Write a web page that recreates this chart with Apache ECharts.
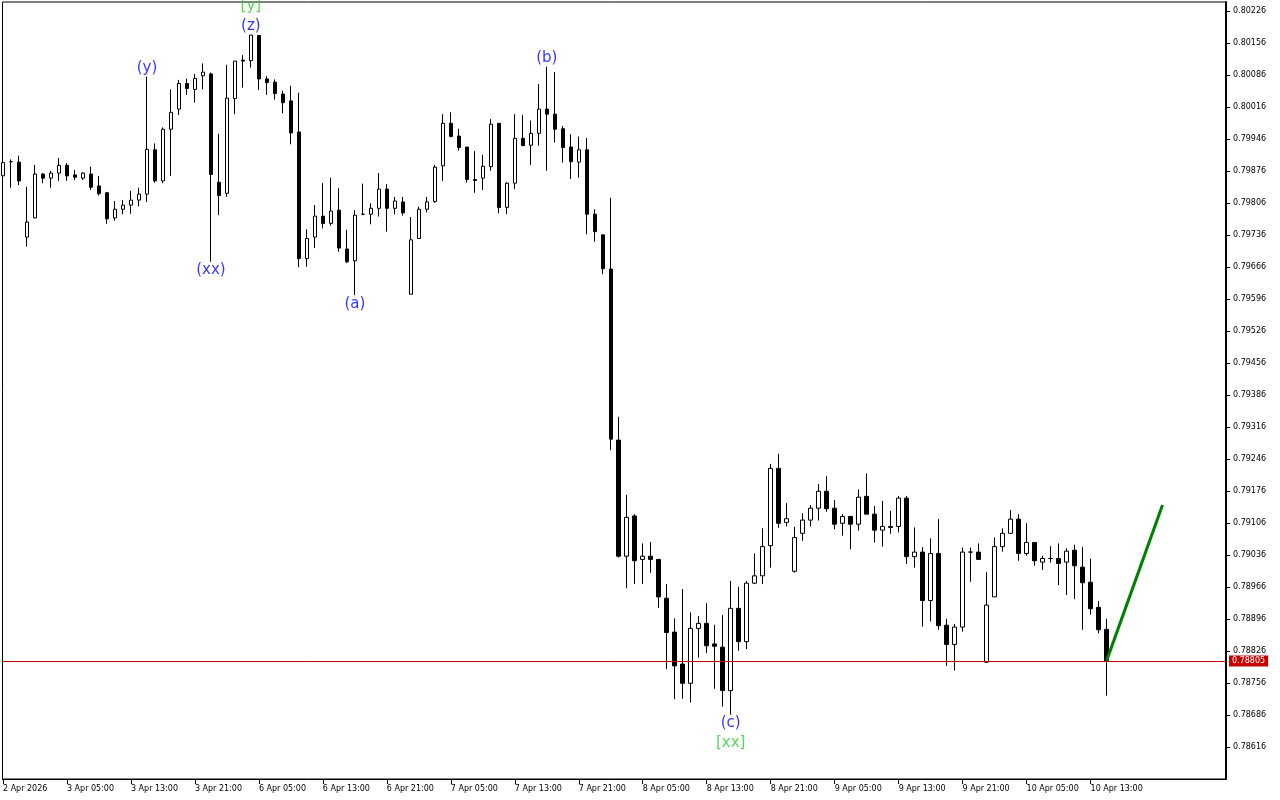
<!DOCTYPE html>
<html><head><meta charset="utf-8">
<script src="https://cdn.jsdelivr.net/npm/echarts@6/dist/echarts.min.js"></script>
<style>html,body{margin:0;padding:0;background:#fff}#c{width:1280px;height:800px}</style>
</head><body><div id="c"></div>
<script>
// H1 candles, index 0 = 2 Apr 2026 21:00
const opens = [0.79866,0.79897,0.79896,0.79732,0.79774,0.79870,0.79861,0.79872,0.79889,0.79868,
0.79861,0.79870,0.79844,0.79829,0.79774,0.79793,0.79802,0.79813,0.79826,0.79923,
0.79855,0.79968,0.80012,0.80068,0.80055,0.80085,0.80089,0.79852,0.79828,0.80035,
0.80119,0.80118,0.80173,0.80078,0.80071,0.80045,0.80030,0.79962,0.79685,0.79732,
0.79778,0.79762,0.79791,0.79706,0.79680,0.79782,0.79782,0.79795,0.79837,0.79795,
0.79809,0.79607,0.79729,0.79793,0.79810,0.79888,0.79981,0.79953,0.79929,0.79858,
0.79861,0.79886,0.79981,0.79797,0.79850,0.79948,0.79933,0.79959,0.80012,0.80001,
0.79969,0.79929,0.79896,0.79923,0.79782,0.79737,0.79662,0.79288,0.79034,0.79122,
0.79027,0.79034,0.79027,0.78942,0.78868,0.78798,0.78756,0.78876,0.78887,0.78842,
0.78835,0.78740,0.78920,0.78847,0.78975,0.78991,0.79057,0.79226,0.79108,0.79001,
0.79084,0.79113,0.79139,0.79176,0.79139,0.79106,0.79121,0.79104,0.79165,0.79126,
0.79091,0.79099,0.79099,0.79161,0.79033,0.79043,0.78937,0.79040,0.78883,0.78841,
0.78879,0.79043,0.79043,0.78802,0.78945,0.79055,0.79084,0.79115,0.79040,0.79064,
0.79021,0.79029,0.79029,0.79021,0.79047,0.79010,0.78977,0.78922,0.78874];
const highs = [0.79907,0.79902,0.79910,0.79842,0.79890,0.79872,0.79877,0.79905,0.79894,0.79879,
0.79874,0.79886,0.79866,0.79831,0.79811,0.79813,0.79833,0.79840,0.80083,0.79937,
0.79972,0.80055,0.80076,0.80079,0.80089,0.80112,0.80092,0.79958,0.80109,0.80117,
0.80130,0.80174,0.80174,0.80084,0.80077,0.80052,0.80063,0.80048,0.79749,0.79802,
0.79850,0.79862,0.79839,0.79748,0.79791,0.79849,0.79806,0.79872,0.79848,0.79820,
0.79820,0.79776,0.79799,0.79820,0.79890,0.80001,0.80005,0.79969,0.79929,0.79920,
0.79912,0.79990,0.79981,0.79852,0.80001,0.79999,0.79987,0.80067,0.80105,0.80093,
0.79975,0.79957,0.79952,0.79949,0.79793,0.79737,0.79818,0.79339,0.79168,0.79126,
0.79062,0.79065,0.79027,0.78973,0.78898,0.78962,0.78911,0.78903,0.78931,0.78884,
0.78905,0.78980,0.78967,0.78980,0.79040,0.79095,0.79236,0.79258,0.79150,0.79098,
0.79128,0.79146,0.79192,0.79209,0.79157,0.79126,0.79121,0.79180,0.79215,0.79144,
0.79155,0.79133,0.79166,0.79166,0.79097,0.79054,0.79073,0.79115,0.78897,0.78886,
0.79053,0.79053,0.79062,0.78999,0.79075,0.79095,0.79135,0.79126,0.79106,0.79064,
0.79035,0.79056,0.79062,0.79051,0.79059,0.79054,0.79029,0.78936,0.78897];
const lows = [0.79844,0.79840,0.79846,0.79711,0.79773,0.79850,0.79840,0.79855,0.79855,0.79857,
0.79857,0.79835,0.79823,0.79761,0.79768,0.79782,0.79783,0.79799,0.79809,0.79851,
0.79850,0.79866,0.79999,0.80043,0.80026,0.80055,0.79678,0.79780,0.79820,0.80001,
0.80059,0.80103,0.80054,0.80043,0.80033,0.80003,0.79935,0.79666,0.79667,0.79708,
0.79751,0.79757,0.79700,0.79675,0.79605,0.79780,0.79760,0.79777,0.79744,0.79782,
0.79779,0.79607,0.79729,0.79786,0.79807,0.79855,0.79950,0.79921,0.79851,0.79829,
0.79835,0.79877,0.79784,0.79782,0.79837,0.79932,0.79890,0.79932,0.79877,0.79939,
0.79895,0.79859,0.79862,0.79738,0.79722,0.79651,0.79266,0.79031,0.78964,0.78973,
0.78973,0.78998,0.78921,0.78787,0.78721,0.78722,0.78714,0.78812,0.78822,0.78744,
0.78705,0.78687,0.78827,0.78831,0.78973,0.78973,0.79009,0.79096,0.79099,0.78998,
0.79068,0.79099,0.79112,0.79131,0.79093,0.79079,0.79049,0.79090,0.79126,0.79064,
0.79055,0.79083,0.79086,0.79017,0.79009,0.78880,0.78891,0.78873,0.78794,0.78784,
0.78869,0.78978,0.79027,0.78802,0.78945,0.79044,0.79084,0.79024,0.79035,0.79013,
0.79004,0.79020,0.78971,0.78949,0.78940,0.78873,0.78906,0.78865,0.78729];
const closes = [0.79895,0.79897,0.79855,0.79765,0.79870,0.79861,0.79872,0.79889,0.79866,0.79863,
0.79872,0.79841,0.79827,0.79772,0.79793,0.79802,0.79813,0.79826,0.79924,0.79855,
0.79968,0.80005,0.80068,0.80057,0.80079,0.80093,0.79869,0.79823,0.80036,0.80117,
0.80117,0.80174,0.80078,0.80070,0.80046,0.80026,0.79960,0.79685,0.79729,0.79778,
0.79762,0.79789,0.79708,0.79678,0.79780,0.79782,0.79795,0.79837,0.79795,0.79811,
0.79785,0.79726,0.79793,0.79809,0.79885,0.79981,0.79952,0.79928,0.79858,0.79856,
0.79887,0.79979,0.79797,0.79850,0.79948,0.79932,0.79959,0.80012,0.80001,0.79968,
0.79928,0.79897,0.79923,0.79782,0.79744,0.79663,0.79290,0.79034,0.79119,0.79024,
0.79034,0.79027,0.78945,0.78867,0.78794,0.78756,0.78876,0.78887,0.78838,0.78837,
0.78740,0.78920,0.78847,0.78975,0.78991,0.79055,0.79226,0.79106,0.79116,0.79075,
0.79113,0.79139,0.79176,0.79138,0.79104,0.79121,0.79104,0.79163,0.79126,0.79091,
0.79099,0.79097,0.79161,0.79033,0.79043,0.78937,0.79040,0.78882,0.78841,0.78879,
0.79043,0.79043,0.79027,0.78927,0.79055,0.79084,0.79115,0.79040,0.79064,0.79024,
0.79029,0.79029,0.79018,0.79045,0.79013,0.78976,0.78919,0.78873,0.78805];

const xTickIdx = [0,8,16,24,32,40,48,56,64,72,80,88,96,104,112,120,128,136];
const xTickLabels = ['2 Apr 2026','3 Apr 05:00','3 Apr 13:00','3 Apr 21:00','6 Apr 05:00','6 Apr 13:00',
'6 Apr 21:00','7 Apr 05:00','7 Apr 13:00','7 Apr 21:00','8 Apr 05:00','8 Apr 13:00','8 Apr 21:00',
'9 Apr 05:00','9 Apr 13:00','9 Apr 21:00','10 Apr 05:00','10 Apr 13:00'];
const yTicks = [0.78616,0.78686,0.78756,0.78826,0.78896,0.78966,0.79036,0.79106,0.79176,0.79246,0.79316,0.79386,
0.79456,0.79526,0.79596,0.79666,0.79736,0.79806,0.79876,0.79946,0.80016,0.80086,0.80156,0.80226];

const waveText = ['(y)','(z)','[y]','(xx)','(a)','(b)','(c)','[xx]'];
const waveIdx  = [18,31,31,26,44,68,91,91];
const waveSide = ['high','high','high','low','low','high','low','low'];

const projIdx = [138,145];
const projTarget = 0.79146;

// ---- build ----
const candleData = opens.map((o,i)=>[i,o,closes[i],lows[i],highs[i]]);
const lastClose = closes[closes.length-1];
const projData = [[projIdx[0], lastClose],[projIdx[1], projTarget]];
const waveData = waveText.map((t,k)=>{
  const i = waveIdx[k];
  const isHigh = waveSide[k]==='high';
  const outer = t.charAt(0)==='[';
  return {
    value:[i, isHigh ? highs[i] : lows[i]],
    name:t,
    label:{position: isHigh?'top':'bottom', distance: outer?21:1, color: outer?'#32cd32':'#0000ff'}
  };
});
const lblMap = {};
xTickIdx.forEach((v,k)=>{lblMap[v]=xTickLabels[k];});

const chart = echarts.init(document.getElementById('c'), null, {renderer:'canvas'});
const axFont = {fontFamily:'DejaVu Sans', fontSize:8, color:'#000'};
chart.setOption({
  animation:false,
  backgroundColor:'#fff',
  grid:{left:2, top:2, right:54, bottom:21, show:true, borderColor:'#000', borderWidth:1, backgroundColor:'#fff'},
  xAxis:{
    type:'value', min:-0.0625, max:152.9375,
    axisLine:{show:true, onZero:false, lineStyle:{color:'#000', width:1}},
    splitLine:{show:false},
    axisTick:{show:true, inside:false, length:5, customValues:xTickIdx, lineStyle:{color:'#000'}},
    axisLabel:Object.assign({show:true, customValues:xTickIdx, align:'left', margin:6,
      formatter:(v)=>lblMap[Math.round(v)]||''}, axFont)
  },
  yAxis:{
    type:'value', position:'right', min:0.785466, max:0.802463, scale:true,
    axisLine:{show:true, onZero:false, lineStyle:{color:'#000', width:2}},
    splitLine:{show:false},
    axisTick:{show:true, inside:false, length:4, customValues:yTicks, lineStyle:{color:'#000'}},
    axisLabel:Object.assign({show:true, customValues:yTicks, margin:7,
      formatter:(v)=>v.toFixed(5)}, axFont)
  },
  series:[
    {
      type:'candlestick', data:candleData, barWidth:4,
      itemStyle:{color:'#fff', color0:'#000', borderColor:'#000', borderColor0:'#000', borderWidth:1},
      markLine:{
        silent:true, symbol:['none','none'], animation:false, precision:5,
        lineStyle:{color:'#c80000', width:1, type:'solid'},
        label:{show:true, position:'end', distance:3, formatter:(p)=>Number(p.value).toFixed(5),
          backgroundColor:'#c80000', color:'#fff', padding:[2,3,1,3], fontFamily:'DejaVu Sans', fontSize:8},
        data:[{yAxis:lastClose}]
      },
      z:2
    },
    {
      type:'line', data:projData, symbol:'none', lineStyle:{color:'#008000', width:3}, z:3
    },
    {
      type:'scatter', data:waveData, symbolSize:0, z:4,
      label:{show:true, formatter:'{b}', fontFamily:'DejaVu Sans', fontSize:15}
    }
  ]
});
</script></body></html>
